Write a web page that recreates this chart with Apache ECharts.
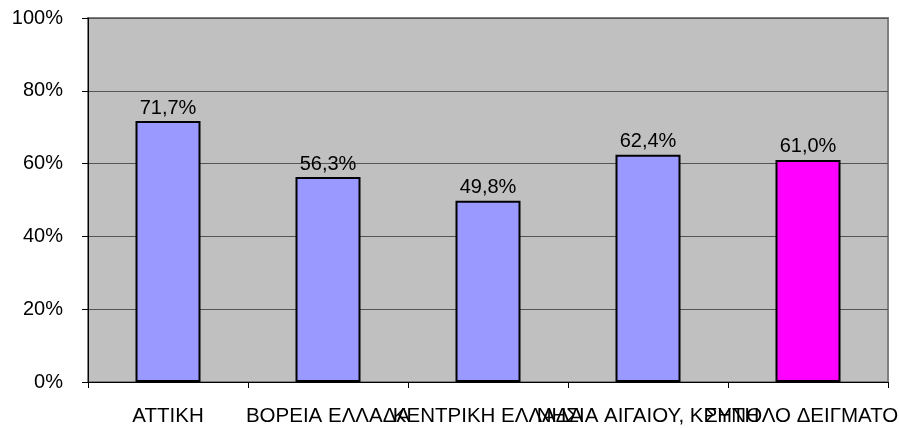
<!DOCTYPE html>
<html>
<head>
<meta charset="utf-8">
<script src="https://cdn.jsdelivr.net/npm/echarts@6/dist/echarts.min.js"></script>
<style>
  html, body { margin: 0; padding: 0; background: #fff; }
  #chart { width: 899px; height: 428px; }
</style>
</head>
<body>
<div id="chart"></div>
<script>
const categories = ['ΑΤΤΙΚΗ', 'ΒΟΡΕΙΑ ΕΛΛΑΔΑ', 'ΚΕΝΤΡΙΚΗ ΕΛΛΑΔΑ', 'ΝΗΣΙΑ ΑΙΓΑΙΟΥ, ΚΡΗΤΗ', 'ΣΥΝΟΛΟ ΔΕΙΓΜΑΤΟΣ'];
const values = [71.7, 56.3, 49.8, 62.4, 61.0];
const barColors = ['#9999FF', '#9999FF', '#9999FF', '#9999FF', '#FF00FF'];

const chart = echarts.init(document.getElementById('chart'));

const seriesData = values.map((v, i) => ({
  value: v,
  itemStyle: { color: barColors[i] }
}));

chart.setOption({
  animation: false,
  textStyle: { fontFamily: 'Liberation Sans, Arial, sans-serif' },
  grid: {
    left: 88,
    right: 11,
    top: 18,
    bottom: 46,
    outerBoundsMode: 'none',
    containLabel: false,
    show: true,
    backgroundColor: '#C0C0C0',
    borderColor: '#808080',
    borderWidth: 2
  },
  xAxis: {
    type: 'category',
    data: categories,
    axisLine: { lineStyle: { color: '#000', width: 1 } },
    axisTick: { show: true, length: 6, alignWithLabel: false, lineStyle: { color: '#000' } },
    axisLabel: {
      interval: 0,
      hideOverlap: false,
      margin: 24,
      fontSize: 20.5,
      color: '#000'
    }
  },
  yAxis: {
    type: 'value',
    min: 0,
    max: 100,
    interval: 20,
    axisLine: { show: true, lineStyle: { color: '#000', width: 1 } },
    axisTick: { show: true, length: 6, lineStyle: { color: '#000' } },
    splitLine: { show: true, lineStyle: { color: '#555', width: 1 } },
    axisLabel: {
      formatter: '{value}%',
      margin: 25,
      fontSize: 20,
      color: '#000'
    }
  },
  series: [{
    type: 'bar',
    data: seriesData,
    barWidth: 65,
    itemStyle: { borderColor: '#000', borderWidth: 2 },
    label: {
      show: true,
      position: 'top',
      distance: 3,
      fontSize: 20,
      color: '#000',
      formatter: p => p.value.toFixed(1).replace('.', ',') + '%'
    }
  }]
});
</script>
</body>
</html>
